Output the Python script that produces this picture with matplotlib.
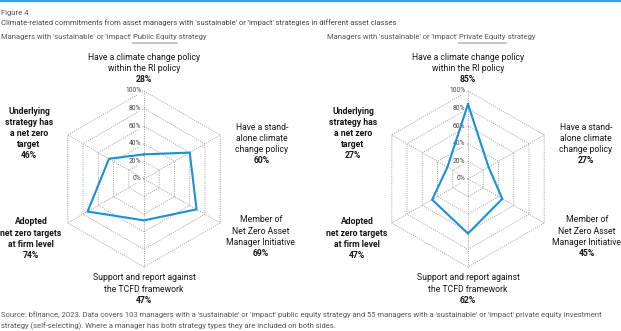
import numpy as np
import matplotlib
matplotlib.use("Agg")
import matplotlib.pyplot as plt
from matplotlib.lines import Line2D

plt.rcParams['font.family'] = ['Roboto', 'DejaVu Sans']

# ---- data -------------------------------------------------------------
categories = [
    ["Have a climate change policy", "within the RI policy"],
    ["Have a stand-", "alone climate", "change policy"],
    ["Member of", "Net Zero Asset", "Manager Initiative"],
    ["Support and report against", "the TCFD framework"],
    ["Adopted", "net zero targets", "at firm level"],
    ["Underlying", "strategy has", "a net zero", "target"],
]
public_equity = [28, 60, 69, 47, 74, 46]
private_equity = [85, 27, 45, 62, 47, 27]
grid_levels = [0, 20, 40, 60, 80, 100]
grid_labels = ["0%", "20%", "40%", "60%", "80%", "100%"]
panel_prefix = "Managers with 'sustainable' or 'impact' "
panel_names = ["Public Equity", "Private Equity"]

W, H = 621, 331
fig = plt.figure(figsize=(W / 100, H / 100), dpi=100)
fig.patch.set_facecolor("white")
renderer = fig.canvas.get_renderer()

BLUE = "#1b8fd8"
GRID = "#a0a0a0"
TXT = "#161616"
PX = 0.88  # pixels per percentage point of radius


def fitted_size(text, width_px, weight="normal", base=8.0):
    """Font size at which `text` spans width_px pixels."""
    t = fig.text(0, 0, text, fontsize=base, fontweight=weight)
    w = t.get_window_extent(renderer).width
    t.remove()
    return base * width_px / w


LABEL_FS = fitted_size("Have a climate change policy", 112)
TICK_FS = fitted_size("100%", 16.5)
HEAD_FS = fitted_size("Climate-related commitments from asset managers with 'sustainable' or "
                      "'impact' strategies in different asset classes", 396)
SRC_FS = fitted_size("Source: bfinance, 2023. Data covers 103 managers with a 'sustainable' or "
                     "'impact' public equity strategy and 55 managers with a 'sustainable' or "
                     "'impact' private equity investment", 603)

angles = np.deg2rad(np.arange(6) * 60.0)  # clockwise from top


def polar_xy(r, k):
    return r * np.sin(angles[k]), r * np.cos(angles[k])


# label anchor: x offset of block centre and y of the first line (pixels from centre)
label_dx = [0, 118, 117, 0, -113, -115]
label_dy = [122, 52, -41, -99, -43, 68]
label_bold = [False, False, False, False, True, True]
LINE = 11.2


def draw_radar(x0, x1, y_top, y_bot, cx, cy, values, dx_adj):
    # axes spans a pixel box; data units are percentage points
    ax = fig.add_axes([x0 / W, 1 - y_bot / H, (x1 - x0) / W, (y_bot - y_top) / H])
    ax.set_xlim((x0 - cx) / PX, (x1 - cx) / PX)
    ax.set_ylim((cy - y_bot) / PX, (cy - y_top) / PX)
    ax.axis("off")

    dots = (0, (1, 1.3))
    # hexagonal grid rings
    for lev in grid_levels[1:]:
        pts = [polar_xy(lev, k) for k in range(6)] + [polar_xy(lev, 0)]
        xs, ys = zip(*pts)
        ax.plot(xs, ys, color=GRID, lw=0.7, ls=dots, zorder=1)
    # spokes
    for k in range(6):
        ex, ey = polar_xy(100, k)
        ax.plot([0, ex], [0, ey], color=GRID, lw=0.7, ls=dots, zorder=1)
    # radial tick labels along the top spoke
    for lev, lab in zip(grid_levels, grid_labels):
        ax.text(-2.5 / PX, lev, lab, ha="right", va="center", fontsize=TICK_FS,
                color="#444444", zorder=2,
                bbox=dict(facecolor="white", edgecolor="none", pad=0.05))

    # data polygon
    pts = [polar_xy(v, k) for k, v in enumerate(values)]
    pts.append(pts[0])
    xs, ys = zip(*pts)
    ax.plot(xs, ys, color=BLUE, lw=1.5, zorder=3, solid_joinstyle="miter")

    # category labels with values
    for k, (lines, v) in enumerate(zip(categories, values)):
        lx = (label_dx[k] + dx_adj[k]) / PX
        w = "bold" if label_bold[k] else "normal"
        for i, s in enumerate(lines + [f"{v}%"]):
            ly = (label_dy[k] - i * LINE) / PX
            ww = "bold" if i == len(lines) else w
            ax.text(lx, ly, s, ha="center", va="center", fontsize=LABEL_FS,
                    color=TXT, fontweight=ww, clip_on=False)
    return ax


draw_radar(0, 310, 45, 310, 144, 179, public_equity, [0, 0, 0, 0, 0, 0])
draw_radar(310, 621, 45, 310, 468, 179, private_equity, [0, 0, 2, 0, 2, 0])

# header
fig.add_artist(Line2D([0, 1], [1 - 1 / H, 1 - 1 / H], color="#2aa3df", lw=1.6))
fig.text(1 / W, 1 - 13 / H, "Figure 4", fontsize=HEAD_FS, color="#555555", va="center")
fig.text(1 / W, 1 - 23 / H,
         "Climate-related commitments from asset managers with 'sustainable' or 'impact' strategies in different asset classes",
         fontsize=HEAD_FS, color="#444444", va="center")

# panel titles with underline beneath the asset class
for xpix, name in zip([1, 327], panel_names):
    t1 = fig.text(xpix / W, 1 - 37 / H, panel_prefix, fontsize=HEAD_FS, color="#555555", va="center")
    bb = t1.get_window_extent(renderer)
    t2 = fig.text(bb.x1 / W, 1 - 37 / H, name, fontsize=HEAD_FS, color="#555555", va="center")
    bb2 = t2.get_window_extent(renderer)
    fig.text(bb2.x1 / W, 1 - 37 / H, " strategy", fontsize=HEAD_FS, color="#555555", va="center")
    fig.add_artist(Line2D([bb2.x0 / W, bb2.x1 / W], [1 - 42.5 / H, 1 - 42.5 / H],
                          color="#bbbbbb", lw=1.2))

# source note
fig.text(1 / W, 1 - 315 / H,
         "Source: bfinance, 2023. Data covers 103 managers with a 'sustainable' or 'impact' public equity strategy and 55 managers with a 'sustainable' or 'impact' private equity investment",
         fontsize=SRC_FS, color="#555555", va="center")
fig.text(1 / W, 1 - 326 / H,
         "strategy (self-selecting). Where a manager has both strategy types they are included on both sides.",
         fontsize=SRC_FS, color="#555555", va="center")

fig.savefig("out.png", dpi=100, facecolor="white")
